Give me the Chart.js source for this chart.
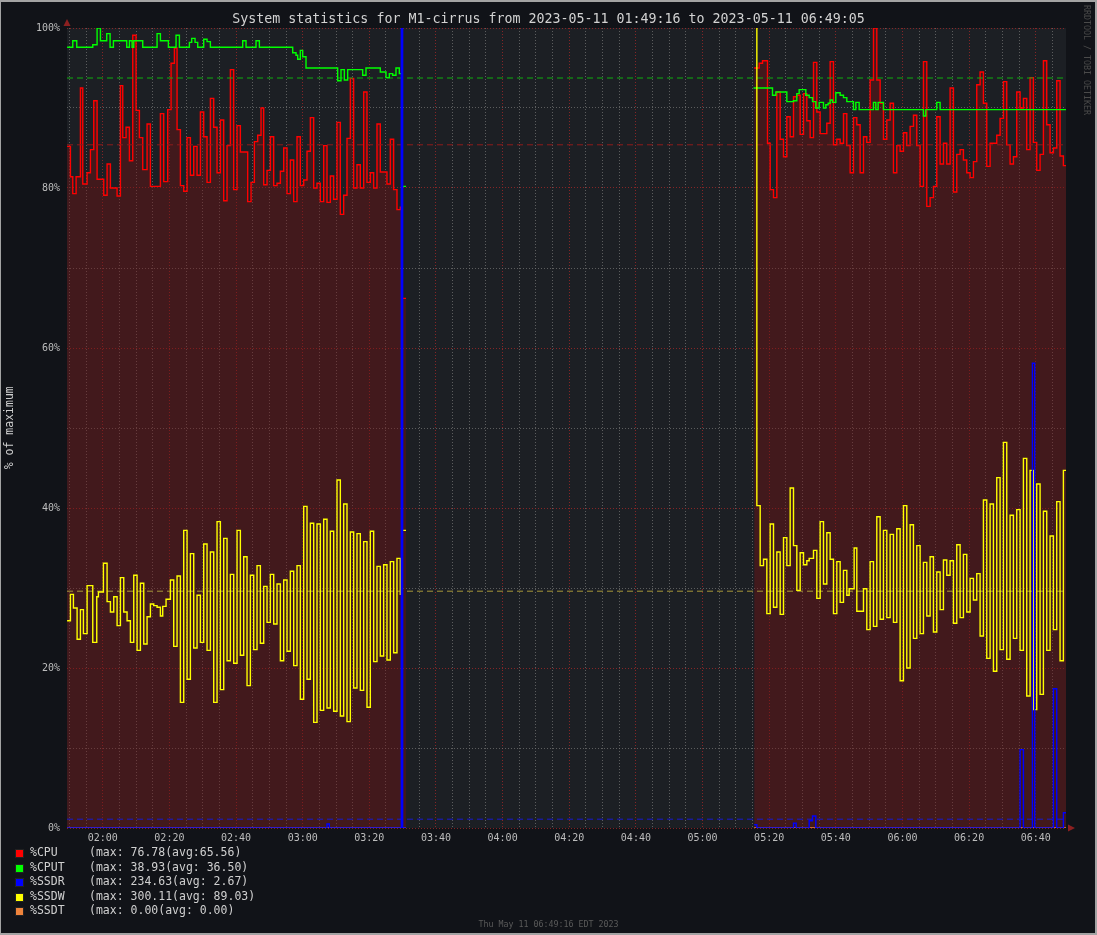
<!DOCTYPE html>
<html><head><meta charset="utf-8">
<script src="https://cdn.jsdelivr.net/npm/chart.js@4.4.0/dist/chart.umd.min.js"></script>
<style>
html,body{margin:0;padding:0;background:#111318;}
#wrap{position:relative;width:1097px;height:935px;overflow:hidden;background:#111318;font-family:"DejaVu Sans Mono",monospace;}
#frame{position:absolute;left:0;top:0;width:1097px;height:935px;box-sizing:border-box;border-style:solid;border-color:#a3a3a3;border-width:2px 2px 2px 1px;pointer-events:none;}
canvas{position:absolute;left:0;top:0;}
.t{position:absolute;white-space:pre;line-height:1;}
.sq{position:absolute;width:7px;height:7px;border:1px solid #222;}
</style></head><body>
<div id="wrap">
<canvas id="c" width="1097" height="935"></canvas>
<div class="t" style="left:0;width:1097px;text-align:center;top:12px;font-size:13.3px;color:#d2d2d2;">System statistics for M1-cirrus from 2023-05-11 01:49:16 to 2023-05-11 06:49:05</div>
<div class="t" style="left:-36px;top:422px;width:92px;text-align:center;font-size:11.5px;color:#cfcfcf;transform:rotate(-90deg);">% of maximum</div>
<div class="t" style="left:1083px;top:5px;font-size:8.3px;color:#4a4a4a;writing-mode:vertical-rl;">RRDTOOL / TOBI OETIKER</div>
<div class="t" style="left:0;width:1097px;text-align:center;top:920px;font-size:8.3px;color:#5a5a5a;">Thu May 11 06:49:16 EDT 2023</div>
<div id="legend"></div>
<div id="frame"></div>
</div>
<script>
// ---- labels / legend ----
const legendNames = ["%CPU", "%CPUT", "%SSDR", "%SSDW", "%SSDT"];
const legendStats = ["(max: 76.78(avg:65.56)", "(max: 38.93(avg: 36.50)", "(max: 234.63(avg: 2.67)", "(max: 300.11(avg: 89.03)", "(max: 0.00(avg: 0.00)"];
const seriesColors = ["#ff0000", "#00ff00", "#0000ff", "#ffff00", "#f0843c"];

// time axis in minutes since midnight
const tStart = 109.27;   // 01:49:16
const tEnd = 409.08;     // 06:49:05
const xTickValues = [];
for (let v = 110; v <= 405; v += 5) xTickValues.push(v);
const yTickValues = [0,10,20,30,40,50,60,70,80,90,100];

// ---- series data: [minute, percent] ----
const cpu = [[109.3,85.2],[110.3,81.4],[111.0,79.3],[112.0,81.4],[113.3,92.5],[114.0,80.5],[115.3,81.9],[116.3,84.8],[117.3,90.9],[118.3,81.1],[120.3,79.1],[121.3,83.0],[122.3,80.0],[124.3,79.0],[125.3,92.8],[126.0,86.3],[127.0,87.6],[128.0,83.4],[129.0,99.1],[130.0,89.7],[131.0,86.3],[132.0,82.3],[133.3,88.0],[134.3,80.2],[137.3,89.3],[138.3,80.8],[139.5,89.8],[140.5,95.6],[141.5,97.5],[142.3,87.3],[143.3,80.3],[144.3,79.6],[145.3,86.3],[146.3,81.6],[147.3,85.2],[148.3,81.6],[149.3,89.5],[150.3,86.4],[151.3,80.7],[152.3,91.2],[153.3,87.6],[154.3,81.9],[155.3,88.5],[156.3,78.4],[157.3,85.3],[158.3,94.8],[159.3,79.8],[160.3,87.8],[161.3,84.5],[163.5,78.3],[164.5,80.7],[165.5,85.8],[166.5,86.6],[167.5,90.0],[168.3,80.4],[169.3,82.2],[170.3,86.4],[171.3,80.3],[172.3,80.6],[173.3,82.1],[174.3,85.0],[175.3,79.3],[176.3,83.5],[177.3,78.3],[178.3,86.4],[179.3,80.3],[180.3,81.0],[181.3,84.6],[182.3,88.8],[183.3,80.0],[184.3,80.6],[185.3,78.3],[186.3,85.3],[187.3,78.2],[188.3,81.5],[189.3,78.6],[190.3,88.2],[191.3,76.7],[192.3,79.1],[193.3,86.2],[194.3,93.7],[195.3,80.0],[196.3,82.9],[197.3,80.0],[198.3,92.0],[199.3,80.7],[200.3,81.9],[201.3,80.0],[202.3,88.0],[203.3,82.0],[205.3,80.5],[206.3,86.1],[207.3,79.8],[208.3,77.3],[209.3,77.6],[209.9,66.2],[211.0,66.2],
 [260,null],
 [315.5,95.0],[317.0,95.6],[318.0,95.9],[319.5,85.6],[320.3,79.8],[321.3,78.8],[322.3,92.0],[323.3,86.1],[324.3,83.9],[325.3,88.9],[326.3,86.4],[327.3,91.4],[328.3,91.6],[329.3,86.7],[330.3,91.8],[331.3,88.4],[332.3,86.3],[333.3,95.7],[334.3,89.5],[335.3,86.8],[337.3,88.1],[338.3,95.8],[339.3,85.4],[340.3,86.1],[341.3,85.6],[342.3,89.3],[343.3,85.3],[344.3,81.9],[345.3,88.8],[346.3,87.9],[347.3,81.9],[348.3,86.4],[349.3,85.7],[350.3,93.5],[351.3,100],[352.3,93.5],[353.3,90.6],[354.3,86.1],[355.3,88.5],[356.3,90.6],[357.3,81.9],[358.3,85.3],[359.3,84.6],[360.3,86.9],[361.3,85.3],[362.3,87.7],[363.3,89.1],[364.3,85.3],[365.3,80.2],[366.3,95.8],[367.3,77.7],[368.3,78.8],[369.3,80.2],[370.3,88.9],[371.3,83.0],[372.3,85.6],[373.3,83.0],[374.3,92.5],[375.3,79.5],[376.3,84.2],[377.3,84.8],[378.3,83.5],[379.3,81.9],[380.3,81.3],[381.3,83.3],[382.3,92.9],[383.3,94.5],[384.3,90.6],[385.3,82.7],[386.3,85.6],[388.3,86.6],[389.3,88.7],[390.3,93.3],[391.3,85.4],[392.3,83.0],[393.3,83.9],[394.3,92.0],[395.3,90.0],[396.3,91.2],[397.3,84.8],[398.3,93.8],[399.3,85.7],[400.3,82.2],[401.3,84.2],[402.3,95.9],[403.3,87.9],[404.3,84.4],[405.3,85.0],[406.3,93.4],[407.3,84.0],[408.3,82.8],[409.1,82.8]];

const cput = [[109.3,97.6],[111.0,98.4],[112.2,97.6],[117.0,97.9],[118.3,100],[119.3,98.4],[121.2,99.3],[122.2,97.6],[123.2,98.4],[127.2,97.6],[128.0,98.4],[128.8,97.6],[129.3,98.4],[132.0,97.6],[136.3,99.3],[137.3,98.4],[139.7,97.6],[142.0,99.1],[143.0,97.6],[146.0,98.2],[146.7,98.7],[147.7,98.2],[148.5,97.6],[150.3,98.6],[151.3,98.3],[152.3,97.6],[162.0,98.4],[163.0,97.6],[166.0,98.4],[167.0,97.6],[177.0,96.9],[178.0,96.6],[178.5,96.1],[179.3,97.2],[180.0,96.4],[181.0,95.0],[190.5,93.4],[191.5,94.8],[192.5,93.5],[193.5,94.8],[198.0,94.1],[199.0,95.0],[203.3,94.5],[205.0,93.8],[206.0,94.3],[207.0,94.1],[208.0,95.0],[209.0,94.3],[209.9,80.2],[211.0,80.2],
 [260,null],
 [315.3,92.5],[321.0,91.6],[322.0,92.0],[325.3,90.8],[327.3,90.9],[328.3,91.8],[329.0,92.3],[331.0,91.6],[332.0,91.3],[333.0,90.8],[334.0,90.0],[335.0,90.7],[336.3,90.0],[337.0,90.4],[337.7,90.6],[338.3,91.0],[339.0,90.7],[340.0,91.9],[341.3,91.6],[342.3,91.3],[343.3,90.8],[345.3,89.8],[346.0,90.7],[347.0,89.8],[351.3,90.7],[352.0,89.8],[352.7,90.7],[354.3,89.8],[366.3,89.0],[367.0,89.8],[370.3,90.7],[371.3,89.8],[409.1,89.8]];

const ssdr = [[109.3,0],[187.3,0.5],[188.0,0],[209.6,234.6],[210.0,0],[211.0,0],
 [260,null],
 [315.5,0.4],[316.3,0],[327.3,0.6],[328.1,0],[332.0,0.9],[333.0,1.5],[334.0,0],[395.3,9.8],[396.3,0],[399.0,58.1],[399.7,0],[405.3,17.4],[406.3,0],[408.3,1.9],[409.1,1.9]];

const ssdw = [[109.3,25.9],[110.3,29.2],[111.2,27.5],[112.3,23.6],[113.3,27.3],[114.2,24.3],[115.3,30.3],[117.0,23.2],[118.2,28.9],[118.7,29.5],[120.2,33.1],[121.3,28.3],[122.3,27.0],[123.3,28.9],[124.3,25.3],[125.3,31.3],[126.3,27.0],[127.3,25.9],[128.3,23.2],[129.3,31.6],[130.3,22.2],[131.3,30.6],[132.3,23.0],[133.3,26.4],[134.3,28.0],[135.3,27.8],[136.3,27.6],[137.3,26.5],[138.0,27.7],[139.0,28.6],[140.3,31.0],[141.3,22.7],[142.3,31.5],[143.3,15.7],[144.3,37.2],[145.3,18.6],[146.3,34.3],[147.3,22.5],[148.3,29.1],[149.3,23.2],[150.3,35.5],[151.3,22.2],[152.3,34.5],[153.3,15.7],[154.3,38.3],[155.3,17.3],[156.3,36.2],[157.3,20.9],[158.3,31.7],[159.3,20.6],[160.3,37.2],[161.3,21.6],[162.3,33.9],[163.3,17.8],[164.3,31.6],[165.3,22.3],[166.3,32.8],[167.3,23.1],[168.3,30.2],[169.3,25.7],[170.3,31.7],[171.3,25.5],[172.3,30.5],[173.3,20.9],[174.3,31.0],[175.3,22.1],[176.3,32.1],[177.3,20.3],[178.3,32.8],[179.3,16.1],[180.3,40.2],[181.3,18.6],[182.3,38.1],[183.3,13.2],[184.3,38.0],[185.3,14.7],[186.3,38.6],[187.3,15.0],[188.3,37.1],[189.3,14.6],[190.3,43.5],[191.3,14.0],[192.3,40.5],[193.3,13.3],[194.3,37.0],[195.3,17.5],[196.3,36.8],[197.3,17.2],[198.3,35.8],[199.3,15.1],[200.3,37.1],[201.3,20.8],[202.3,32.7],[203.3,21.5],[204.3,32.9],[205.3,21.0],[206.3,33.3],[207.3,21.9],[208.3,33.7],[209.3,29.2],[209.8,37.2],[211.0,37.2],
 [260,null],
 [316.0,300.1],[316.3,40.3],[317.3,32.8],[318.3,33.6],[319.3,26.8],[320.3,38.0],[321.3,27.6],[322.3,34.5],[323.3,26.7],[324.3,36.3],[325.3,32.8],[326.3,42.5],[327.3,35.3],[328.3,29.7],[329.3,34.4],[330.3,32.9],[331.3,33.4],[332.0,33.7],[333.3,34.7],[334.3,28.7],[335.3,38.3],[336.3,30.5],[337.3,36.9],[338.3,33.6],[339.3,26.8],[340.3,33.3],[341.3,28.2],[342.3,32.2],[343.3,29.1],[344.0,29.9],[345.5,35.0],[346.3,27.1],[348.3,29.9],[349.3,24.8],[350.3,33.3],[351.3,25.2],[352.3,38.9],[353.3,26.1],[354.3,37.2],[355.3,26.3],[356.3,36.7],[357.3,25.7],[358.3,37.4],[359.3,18.4],[360.3,40.3],[361.3,20.0],[362.3,37.9],[363.3,23.7],[364.3,35.3],[365.3,24.3],[366.3,33.2],[367.3,26.5],[368.3,33.9],[369.3,24.5],[370.3,32.0],[371.3,27.3],[372.3,33.5],[373.3,31.6],[374.3,33.4],[375.3,25.6],[376.3,35.4],[377.3,26.3],[378.3,34.2],[379.3,27.0],[380.3,31.2],[381.3,28.5],[382.3,31.8],[383.3,24.0],[384.3,41.0],[385.3,21.2],[386.3,40.5],[387.3,19.6],[388.3,43.8],[389.3,22.3],[390.3,48.2],[391.3,21.1],[392.3,39.1],[393.3,23.7],[394.3,39.8],[395.3,22.2],[396.3,46.2],[397.3,16.5],[398.3,44.7],[399.3,14.8],[400.3,43.0],[401.3,16.7],[402.3,39.6],[403.3,22.2],[404.3,36.5],[405.3,24.8],[406.3,40.8],[407.3,20.9],[408.3,44.7],[409.1,44.7]];

const ssdt = [[109.3,0],[211.0,0],[260,null],[315.5,0],[409.1,0]];

// dashed reference rules (percent)
const ruleValues = [93.75, 85.4, 29.6, 1.1];
const ruleColors = ["#0fae0f", "#8e1c1c", "#a8983a", "#1a1ad0"];

// ---- legend HTML ----
const legendTop = [847, 862, 876, 891, 905];
const lg = document.getElementById('legend');
legendNames.forEach((n, i) => {
  const sq = document.createElement('div');
  sq.className = 'sq';
  sq.style.left = '15px'; sq.style.top = (legendTop[i] + 2) + 'px';
  sq.style.background = seriesColors[i];
  lg.appendChild(sq);
  const a = document.createElement('div');
  a.className = 't'; a.textContent = n;
  a.style.cssText += 'left:30px;top:' + legendTop[i] + 'px;font-size:11.5px;color:#d0d0d0;';
  lg.appendChild(a);
  const b = document.createElement('div');
  b.className = 't'; b.textContent = legendStats[i];
  b.style.cssText += 'left:89px;top:' + legendTop[i] + 'px;font-size:11.5px;color:#d0d0d0;';
  lg.appendChild(b);
});

// ---- chart ----
const toXY = arr => arr.map(p => ({x: p[0], y: p[1]}));
const pad2 = n => String(n).padStart(2, '0');
const fmtTime = v => pad2(Math.floor(v / 60)) + ':' + pad2(v % 60);

const lineBase = {stepped: true, pointRadius: 0, spanGaps: false, tension: 0, fill: false};
const datasets = [
  Object.assign({}, lineBase, {label: '%CPU', data: toXY(cpu), borderColor: seriesColors[0], borderWidth: 1.4,
    fill: 'origin', backgroundColor: 'rgba(120,16,20,0.42)', order: 10}),
  ...ruleValues.map((v, i) => ({label: 'rule' + i, data: [{x: tStart, y: v}, {x: tEnd, y: v}], borderColor: ruleColors[i],
    borderWidth: 1, borderDash: [6, 4], pointRadius: 0, fill: false, order: 9})),
  Object.assign({}, lineBase, {label: '%CPUT', data: toXY(cput), borderColor: seriesColors[1], borderWidth: 1.4, order: 8}),
  Object.assign({}, lineBase, {label: '%SSDT', data: toXY(ssdt), borderColor: seriesColors[4], borderWidth: 1.4, order: 7}),
  Object.assign({}, lineBase, {label: '%SSDW', data: toXY(ssdw), borderColor: seriesColors[3], borderWidth: 1.4, order: 6}),
  Object.assign({}, lineBase, {label: '%SSDR', data: toXY(ssdr), borderColor: seriesColors[2], borderWidth: 1.4, order: 5})
];

const bgPlugin = {
  id: 'bg',
  beforeDraw(chart) {
    const {ctx, chartArea: a} = chart;
    ctx.save();
    ctx.fillStyle = '#1c1f24';
    ctx.fillRect(a.left, a.top, a.right - a.left, a.bottom - a.top);
    ctx.restore();
  },
  afterDraw(chart) {
    const {ctx, chartArea: a} = chart;
    ctx.save();
    ctx.fillStyle = '#8c2020';
    // y-axis arrow
    ctx.beginPath();
    ctx.moveTo(a.left - 3.5, a.top - 2); ctx.lineTo(a.left + 3.5, a.top - 2); ctx.lineTo(a.left, a.top - 9); ctx.closePath(); ctx.fill();
    // x-axis arrow
    ctx.beginPath();
    ctx.moveTo(a.right + 2, a.bottom - 3.5); ctx.lineTo(a.right + 2, a.bottom + 3.5); ctx.lineTo(a.right + 9, a.bottom); ctx.closePath(); ctx.fill();
    ctx.restore();
  }
};

const gridColor = (major) => major ? 'rgba(150,40,40,0.85)' : 'rgba(120,120,120,0.7)';

new Chart(document.getElementById('c'), {
  type: 'line',
  data: {datasets},
  options: {
    responsive: false, animation: false, devicePixelRatio: 1,
    layout: {padding: {left: 0, top: 28, right: 31, bottom: 0}},
    plugins: {legend: {display: false}, tooltip: {enabled: false}, title: {display: false}},
    scales: {
      x: {
        type: 'linear', min: tStart, max: tEnd,
        afterFit(s) { s.height = 107; },
        afterBuildTicks(s) { s.ticks = xTickValues.map(v => ({value: v})); },
        ticks: {autoSkip: false, maxRotation: 0, padding: 4, color: '#bdbdbd',
          font: {family: 'DejaVu Sans Mono', size: 10},
          callback: v => (v % 20 === 0 ? fmtTime(v) : '')},
        grid: {color: c => gridColor(c.tick && c.tick.value % 20 === 0), lineWidth: 1, drawTicks: false},
        border: {display: false, dash: [1, 2]}
      },
      y: {
        min: 0, max: 100,
        afterFit(s) { s.width = 67; },
        afterBuildTicks(s) { s.ticks = yTickValues.map(v => ({value: v})); },
        ticks: {autoSkip: false, padding: 7, color: '#bdbdbd',
          font: {family: 'DejaVu Sans Mono', size: 10},
          callback: v => (v % 20 === 0 ? v + '%' : '')},
        grid: {color: c => gridColor(c.tick && c.tick.value % 20 === 0), lineWidth: 1, drawTicks: false},
        border: {display: false, dash: [1, 2]}
      }
    }
  },
  plugins: [bgPlugin]
});
</script>
</body></html>
